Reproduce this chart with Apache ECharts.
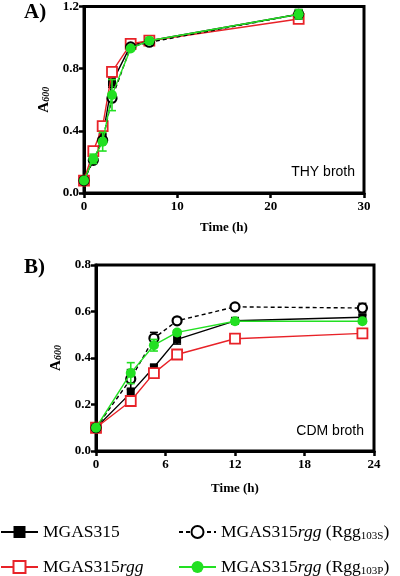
<!DOCTYPE html>
<html><head><meta charset="utf-8">
<script src="https://cdn.jsdelivr.net/npm/echarts@6/dist/echarts.min.js"></script>
<style>html,body{margin:0;padding:0;background:#fff}#c{width:400px;height:576px}</style>
</head><body><div id="c"></div>
<script>
// ---------- data ----------
const seriesNames = ['MGAS315', 'MGAS315rgg', 'MGAS315rgg (Rgg103S)', 'MGAS315rgg (Rgg103P)'];

// Panel A: THY broth
const timeA = [0, 1, 2, 3, 5, 7, 23];
const thyWT    = [0.08, 0.22, 0.36, 0.71, 0.95, 0.98, 1.15];
const thyRgg   = [0.08, 0.27, 0.43, 0.78, 0.96, 0.98, 1.12];
const thy103S  = [0.08, 0.21, 0.34, 0.61, 0.94, 0.97, 1.15];
const thy103P  = [0.08, 0.22, 0.33, 0.63, 0.93, 0.98, 1.15];
const thyErrWT   = [0, 0, 0, 0.03, 0, 0, 0.02];
const thyErrRgg  = [0, 0, 0, 0.03, 0, 0, 0.02];
const thyErr103S = [0, 0, 0, 0, 0, 0, 0.03];
const thyErr103P = [0, 0.03, 0.06, 0.10, 0, 0.02, 0.03];

// Panel B: CDM broth
const timeB = [0, 3, 5, 7, 12, 23];
const cdmWT    = [0.10, 0.25, 0.36, 0.48, 0.56, 0.575];
const cdmRgg   = [0.10, 0.215, 0.335, 0.415, 0.483, 0.506];
const cdm103S  = [0.10, 0.31, 0.485, 0.56, 0.62, 0.615];
const cdm103P  = [0.10, 0.335, 0.455, 0.51, 0.558, 0.558];
const cdmErrWT   = [0, 0.015, 0.01, 0.02, 0, 0.01];
const cdmErrRgg  = [0, 0.01, 0.01, 0.01, 0, 0];
const cdmErr103S = [0, 0.04, 0.025, 0, 0, 0.02];
const cdmErr103P = [0, 0.045, 0.025, 0.01, 0, 0];

const xTicksA = [0, 10, 20, 30];
const yTicksA = [0.0, 0.4, 0.8, 1.2];
const xTicksB = [0, 6, 12, 18, 24];
const yTicksB = [0.0, 0.2, 0.4, 0.6, 0.8];

// ---------- styles ----------
const RED = '#e82228', GREEN = '#22e022', BLACK = '#000';
const styles = [
  {color: BLACK, symbol: 'rect', size: 8, fill: BLACK, bw: 0, dash: 'solid', z: 2},
  {color: RED, symbol: 'rect', size: 10, fill: '#fff', bw: 1.8, dash: 'solid', z: 3},
  {color: BLACK, symbol: 'circle', size: 9, fill: '#fff', bw: 2.2, dash: [4, 3], z: 4},
  {color: GREEN, symbol: 'circle', size: 10, fill: GREEN, bw: 0, dash: 'solid', z: 5}
];
const SERIF = 'Liberation Serif';

function lineSeries(i, xs, ys, xi, yi) {
  const s = styles[i];
  return {
    name: seriesNames[i], type: 'line', xAxisIndex: xi, yAxisIndex: yi,
    data: xs.map((x, k) => [x, ys[k]]),
    symbol: s.symbol, symbolSize: s.size, showSymbol: true, z: s.z,
    lineStyle: {color: s.color, width: 1.4, type: s.dash},
    itemStyle: {color: s.fill, borderColor: s.color, borderWidth: s.bw},
    emphasis: {disabled: true}, animation: false
  };
}
function errSeries(i, xs, ys, es, xi, yi) {
  const s = styles[i];
  return {
    name: seriesNames[i] + ' err', type: 'custom', xAxisIndex: xi, yAxisIndex: yi,
    data: xs.map((x, k) => [x, ys[k] - es[k], ys[k] + es[k], es[k]]).filter(d => d[3] > 0),
    z: s.z, silent: true, animation: false,
    renderItem: function (params, api) {
      const lo = api.coord([api.value(0), api.value(1)]);
      const hi = api.coord([api.value(0), api.value(2)]);
      const w = 4;
      const st = {stroke: s.color, lineWidth: 1.6};
      return {type: 'group', children: [
        {type: 'line', shape: {x1: lo[0], y1: lo[1], x2: hi[0], y2: hi[1]}, style: st},
        {type: 'line', shape: {x1: lo[0] - w, y1: lo[1], x2: lo[0] + w, y2: lo[1]}, style: st},
        {type: 'line', shape: {x1: hi[0] - w, y1: hi[1], x2: hi[0] + w, y2: hi[1]}, style: st}
      ]};
    }
  };
}

const axisLabel = {color: '#000', fontFamily: SERIF, fontWeight: 'bold', fontSize: 13};
function xAx(gi, max, interval, gap) {
  return {
    type: 'value', gridIndex: gi, min: 0, max: max, interval: interval,
    axisLine: {show: true, lineStyle: {color: '#000', width: 3}},
    axisTick: {show: true, inside: false, length: 5, lineStyle: {color: '#000', width: 2.5}},
    axisLabel: Object.assign({margin: 7}, axisLabel),
    splitLine: {show: false},
    name: 'Time (h)', nameLocation: 'middle', nameGap: gap,
    nameTextStyle: {color: '#000', fontFamily: SERIF, fontWeight: 'bold', fontSize: 13}
  };
}
function yAx(gi, max, interval, gap) {
  return {
    type: 'value', gridIndex: gi, min: 0, max: max, interval: interval,
    axisLine: {show: true, lineStyle: {color: '#000', width: 3}},
    axisTick: {show: true, inside: false, length: 5, lineStyle: {color: '#000', width: 2.5}},
    axisLabel: Object.assign({margin: 5, formatter: v => v.toFixed(1)}, axisLabel),
    splitLine: {show: false},
    name: '{a|A}{s|600}', nameLocation: 'middle', nameGap: gap, nameRotate: 90,
    nameTextStyle: {color: '#000', rich: {
      a: {fontFamily: SERIF, fontWeight: 'bold', fontSize: 15, color: '#000'},
      s: {fontFamily: SERIF, fontWeight: 'bold', fontStyle: 'italic', fontSize: 10, color: '#000', verticalAlign: 'bottom', padding: [6, 0, 0, 0]}
    }}
  };
}

const legendRich = {
  n: {fontFamily: SERIF, fontSize: 17.5, color: '#000'},
  i: {fontFamily: SERIF, fontSize: 17.5, fontStyle: 'italic', color: '#000'},
  s: {fontFamily: SERIF, fontSize: 11, color: '#000', verticalAlign: 'bottom', padding: [8, 0, 0, 0]}
};
function legendFmt(name) {
  if (name === 'MGAS315') return '{n|MGAS315}';
  if (name === 'MGAS315rgg') return '{n|MGAS315}{i|rgg}';
  const m = name.match(/\(Rgg(\w+)\)/);
  return '{n|MGAS315}{i|rgg}{n| (Rgg}{s|' + m[1] + '}{n|)}';
}
function legend(left, top, name) {
  return {
    left: left, top: top, orient: 'horizontal', padding: 0, itemWidth: 37, itemHeight: 15,
    data: [name], selectedMode: false, formatter: legendFmt,
    textStyle: {fontFamily: SERIF, fontSize: 17.5, color: '#000', rich: legendRich}
  };
}

const series = [];
const A = [thyWT, thyRgg, thy103S, thy103P], AE = [thyErrWT, thyErrRgg, thyErr103S, thyErr103P];
const B = [cdmWT, cdmRgg, cdm103S, cdm103P], BE = [cdmErrWT, cdmErrRgg, cdmErr103S, cdmErr103P];
for (let i = 0; i < 4; i++) {
  series.push(errSeries(i, timeA, A[i], AE[i], 0, 0));
  series.push(lineSeries(i, timeA, A[i], 0, 0));
  series.push(errSeries(i, timeB, B[i], BE[i], 1, 1));
  series.push(lineSeries(i, timeB, B[i], 1, 1));
}

const chart = echarts.init(document.getElementById('c'), null, {renderer: 'canvas'});
chart.setOption({
  animation: false,
  backgroundColor: '#fff',
  grid: [
    {left: 84, top: 6, width: 280, height: 187, show: true, borderColor: '#000', borderWidth: 3, backgroundColor: 'transparent'},
    {left: 96, top: 265, width: 278, height: 186, show: true, borderColor: '#000', borderWidth: 3, backgroundColor: 'transparent'}
  ],
  xAxis: [xAx(0, 30, 10, 28), xAx(1, 24, 6, 31)],
  yAxis: [yAx(0, 1.2, 0.4, 23), yAx(1, 0.8, 0.2, 31)],
  legend: [
    legend(0, 523, seriesNames[0]), legend(0, 558, seriesNames[1]),
    legend(178, 523, seriesNames[2]), legend(178, 558, seriesNames[3])
  ],
  graphic: [
    {type: 'text', left: 24, top: 2, style: {text: 'A)', font: 'bold 21px "Liberation Serif"', fill: '#000'}},
    {type: 'text', left: 24, top: 257, style: {text: 'B)', font: 'bold 21px "Liberation Serif"', fill: '#000'}},
    {type: 'text', right: 45, top: 165, style: {text: 'THY broth', font: '14px "Liberation Sans"', fill: '#000'}},
    {type: 'text', right: 36, top: 424, style: {text: 'CDM broth', font: '14px "Liberation Sans"', fill: '#000'}}
  ],
  series: series
});
</script></body></html>
